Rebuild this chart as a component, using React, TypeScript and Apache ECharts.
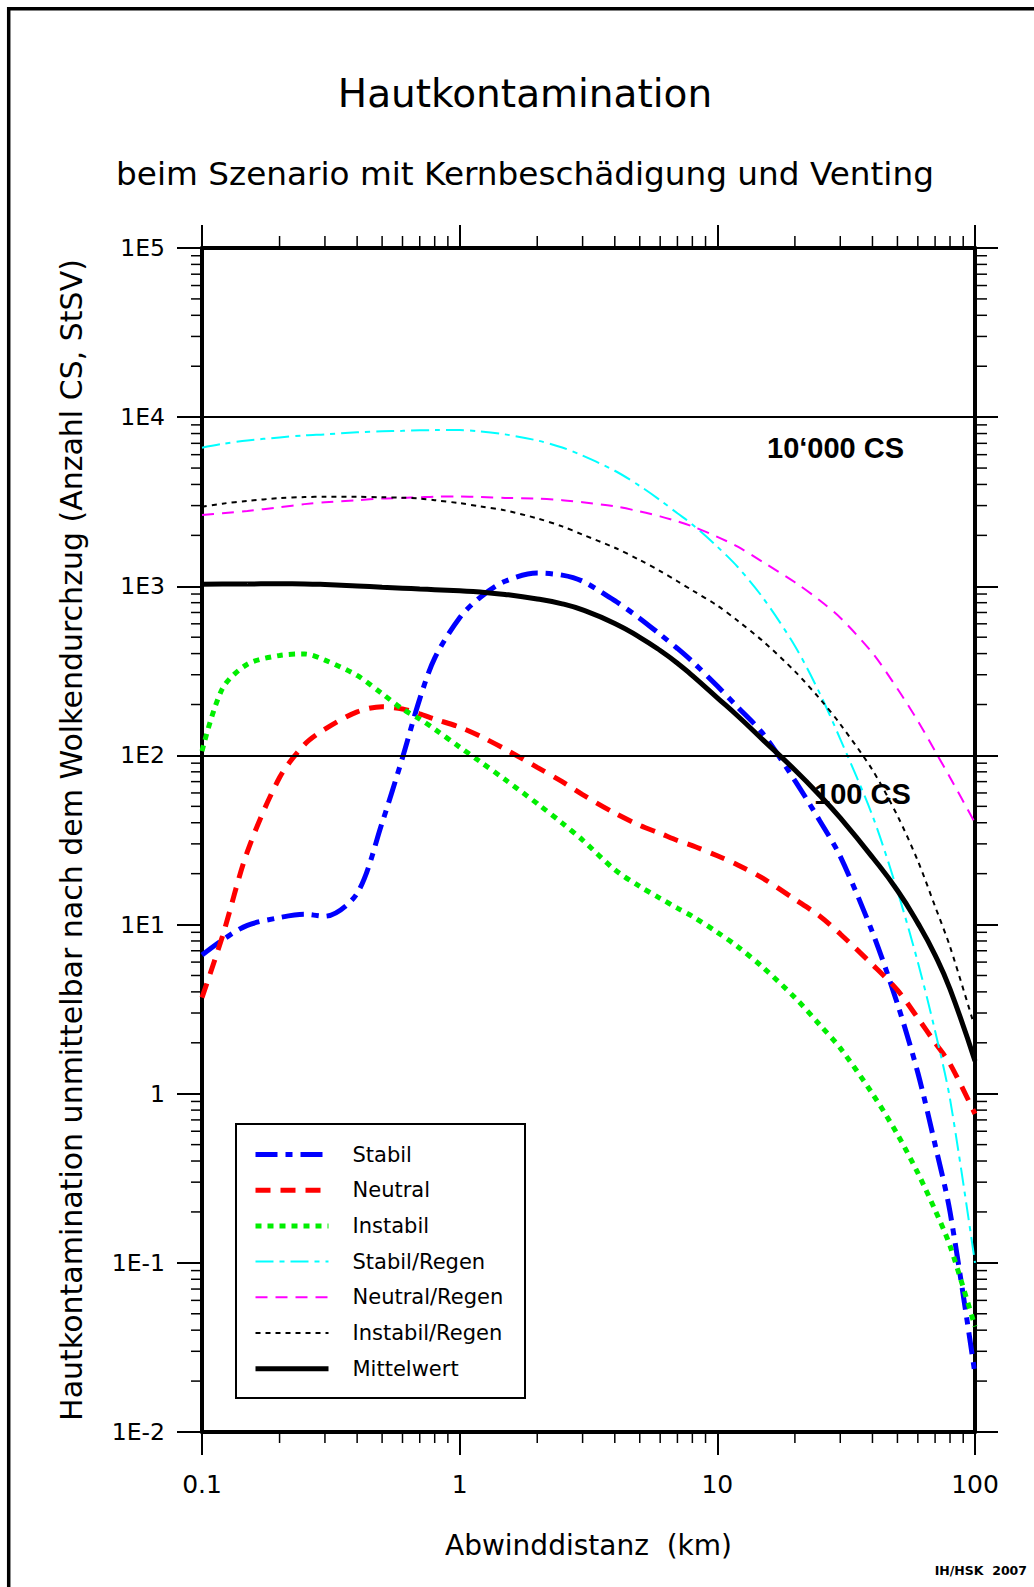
import React, { useEffect, useRef } from "react";
import * as echarts from "echarts";

// Downwind distance (km)
const distances = [0.1, 0.12, 0.15, 0.2, 0.25, 0.3, 0.4, 0.5, 0.6, 0.7, 0.8, 1, 1.2, 1.5, 2, 2.5, 3, 4, 5, 6, 7, 8, 10, 12, 15, 20, 25, 30, 40, 50, 60, 70, 80, 100];

const stabil = [6.6, 8.1, 9.9, 11.0, 11.5, 11.2, 15.3, 40, 97, 216, 376, 652, 859, 1071, 1197, 1164, 1072, 822, 646, 519, 429, 359, 257, 193, 135, 71, 41, 25.3, 9.0, 3.4, 1.33, 0.5, 0.2, 0.022];
const neutral = [3.7, 8.5, 27, 74, 116, 143, 181, 194, 188, 176, 164, 147, 130, 109, 85, 70, 58.6, 45.6, 38.6, 34.6, 31.4, 29.3, 25.5, 22.5, 18.8, 14.1, 11.2, 8.8, 5.8, 4.1, 2.8, 2.0, 1.5, 0.76];
const instabil = [106, 248, 346, 390, 398, 366, 297, 232, 188, 164, 143, 112, 92, 72, 51.9, 39.8, 31.6, 21.1, 16.8, 14.3, 12.5, 11.2, 9.0, 7.4, 5.6, 3.7, 2.55, 1.86, 1.0, 0.575, 0.34, 0.205, 0.126, 0.042];
const stabilRegen = [6600, 6950, 7280, 7590, 7800, 7910, 8130, 8240, 8300, 8360, 8380, 8390, 8240, 7910, 7280, 6610, 5920, 4820, 3920, 3230, 2700, 2320, 1714, 1300, 859, 444, 232, 125, 44, 15.8, 6.0, 2.35, 0.93, 0.1];
const neutralRegen = [2640, 2700, 2790, 2930, 3060, 3140, 3230, 3300, 3330, 3360, 3390, 3400, 3370, 3330, 3300, 3230, 3140, 2970, 2770, 2590, 2420, 2260, 1960, 1714, 1393, 1057, 824, 652, 403, 248, 160, 106, 74, 40];
const instabilRegen = [2950, 3080, 3200, 3320, 3370, 3380, 3380, 3360, 3340, 3300, 3230, 3100, 2970, 2810, 2520, 2260, 2020, 1690, 1430, 1230, 1071, 946, 769, 625, 475, 314, 216, 153, 82, 44, 23.8, 12.8, 7.4, 2.45];
const mittelwert = [1028, 1030, 1032, 1035, 1033, 1025, 1005, 988, 975, 963, 955, 940, 925, 895, 841, 787, 725, 603, 499, 417, 351, 296, 219, 171, 124, 82, 58, 42.7, 25, 15.9, 10.2, 6.6, 4.15, 1.56];

const thresholds = [10000, 100];
const thresholdLabels = ["10\u2018000 CS", "100 CS"];

const xTickLabels = ["0.1", "1", "10", "100"];
const yTickLabels = ["1E-2", "1E-1", "1", "1E1", "1E2", "1E3", "1E4", "1E5"];
const xMinorTicks = [0.2, 0.3, 0.4, 0.5, 0.6, 0.7, 0.8, 0.9, 2, 3, 4, 5, 6, 7, 8, 9, 20, 30, 40, 50, 60, 70, 80, 90];
const yMinorTicks = [
  0.02, 0.03, 0.04, 0.05, 0.06, 0.07, 0.08, 0.09,
  0.2, 0.3, 0.4, 0.5, 0.6, 0.7, 0.8, 0.9,
  2, 3, 4, 5, 6, 7, 8, 9,
  20, 30, 40, 50, 60, 70, 80, 90,
  200, 300, 400, 500, 600, 700, 800, 900,
  2000, 3000, 4000, 5000, 6000, 7000, 8000, 9000,
  20000, 30000, 40000, 50000, 60000, 70000, 80000, 90000,
];

const seriesNames = ["Stabil", "Neutral", "Instabil", "Stabil/Regen", "Neutral/Regen", "Instabil/Regen", "Mittelwert"];
const seriesValues = [stabil, neutral, instabil, stabilRegen, neutralRegen, instabilRegen, mittelwert];
const seriesColors = ["#0000ff", "#ff0000", "#00ee00", "#00ffff", "#ff00ff", "#000000", "#000000"];
const seriesWidths = [5, 5, 5, 2, 2, 2, 5];
const seriesDashes: any[] = [[22, 8, 7, 8], [15, 10], [6, 6], [18, 6, 5, 6], [12, 8], [5, 5], "solid"];
const seriesSmooth = [0.3, 0.3, 0.3, 0.3, 0.3, 0.3, 0.5];

const X_MIN = 0.1;
const X_MAX = 100;
const Y_MIN = 0.01;
const Y_MAX = 100000;
const FONT = "DejaVu Sans";

export default function App() {
  const ref = useRef<HTMLDivElement>(null);

  useEffect(() => {
    if (!ref.current) return;
    const chart = echarts.init(ref.current, null, { renderer: "svg" });

    const lineSeries = seriesNames.map((name, si) => ({
      name,
      type: "line",
      xAxisIndex: 0,
      yAxisIndex: 0,
      data: distances.map((d, i) => [d, seriesValues[si][i]]),
      showSymbol: false,
      symbol: "none",
      smooth: seriesSmooth[si],
      silent: true,
      z: si === 6 ? 4 : 3,
      itemStyle: { color: seriesColors[si] },
      lineStyle: { color: seriesColors[si], width: seriesWidths[si], type: seriesDashes[si], cap: "butt" },
      markLine:
        si === 6
          ? {
              silent: true,
              symbol: "none",
              label: { show: false },
              lineStyle: { color: "#000", width: 2, type: "solid" },
              data: thresholds.map((v) => ({ yAxis: v })),
            }
          : undefined,
    }));

    const tickStyle = { stroke: "#000", lineWidth: 1.5 };

    const option: any = {
      animation: false,
      backgroundColor: "#fff",
      textStyle: { fontFamily: FONT },
      title: [
        {
          text: "Hautkontamination",
          left: 525,
          top: 74,
          padding: 0,
          textAlign: "center",
          textStyle: { fontFamily: FONT, fontSize: 39, fontWeight: "normal", color: "#000" },
        },
        {
          text: "beim Szenario mit Kernbeschädigung und Venting",
          left: 525,
          top: 157,
          padding: 0,
          textAlign: "center",
          textStyle: { fontFamily: FONT, fontSize: 32.7, fontWeight: "normal", color: "#000" },
        },
      ],
      grid: { left: 202, right: 59, top: 248, bottom: 155, containLabel: false },
      legend: {
        data: seriesNames,
        orient: "vertical",
        left: 253,
        top: 1144,
        padding: 0,
        itemWidth: 73,
        itemHeight: 14,
        itemGap: 14.7,
        selectedMode: false,
        z: 10,
        itemStyle: { opacity: 0 },
        lineStyle: { width: "inherit", type: "inherit" },
        textStyle: { fontFamily: FONT, fontSize: 21, color: "#000", padding: [0, 0, 0, 19] },
      },
      xAxis: [
        {
          type: "log",
          logBase: 10,
          min: X_MIN,
          max: X_MAX,
          splitNumber: 3,
          position: "bottom",
          name: "Abwinddistanz  (km)",
          nameLocation: "middle",
          nameGap: 99,
          nameTextStyle: { fontFamily: FONT, fontSize: 28, color: "#000" },
          axisLine: { show: true, onZero: false, lineStyle: { color: "#000", width: 4 } },
          axisTick: { show: true, length: 23, lineStyle: { color: "#000", width: 2 } },
          axisLabel: {
            show: true,
            margin: 40,
            fontFamily: FONT,
            fontSize: 25,
            color: "#000",
            showMinLabel: true,
            showMaxLabel: true,
            formatter: (v: number) => xTickLabels[Math.round(Math.log10(v)) + 1],
          },
          splitLine: { show: false },
        },
        {
          type: "log",
          logBase: 10,
          min: X_MIN,
          max: X_MAX,
          splitNumber: 3,
          position: "top",
          axisLine: { show: true, onZero: false, lineStyle: { color: "#000", width: 4 } },
          axisTick: { show: true, length: 23, lineStyle: { color: "#000", width: 2 } },
          axisLabel: { show: false },
          splitLine: { show: false },
        },
      ],
      yAxis: [
        {
          type: "log",
          logBase: 10,
          min: Y_MIN,
          max: Y_MAX,
          splitNumber: 7,
          position: "left",
          name: "Hautkontamination unmittelbar nach dem Wolkendurchzug (Anzahl CS, StSV)",
          nameLocation: "middle",
          nameRotate: 90,
          nameGap: 116,
          nameTextStyle: { fontFamily: FONT, fontSize: 30, color: "#000" },
          axisLine: { show: true, onZero: false, lineStyle: { color: "#000", width: 4 } },
          axisTick: { show: true, length: 25, lineStyle: { color: "#000", width: 2 } },
          axisLabel: {
            show: true,
            margin: 37,
            fontFamily: FONT,
            fontSize: 23.5,
            color: "#000",
            showMinLabel: true,
            showMaxLabel: true,
            formatter: (v: number) => yTickLabels[Math.round(Math.log10(v)) + 2],
          },
          splitLine: { show: false },
        },
        {
          type: "log",
          logBase: 10,
          min: Y_MIN,
          max: Y_MAX,
          splitNumber: 7,
          position: "right",
          axisLine: { show: true, onZero: false, lineStyle: { color: "#000", width: 4 } },
          axisTick: { show: true, length: 23, lineStyle: { color: "#000", width: 2 } },
          axisLabel: { show: false },
          splitLine: { show: false },
        },
      ],
      series: [
        ...lineSeries,
        {
          name: "xMinorTicks",
          type: "custom",
          xAxisIndex: 0,
          yAxisIndex: 0,
          silent: true,
          clip: false,
          data: xMinorTicks.map((v) => [v, 1]),
          renderItem: (params: any, api: any) => {
            const v = api.value(0);
            const pb = api.coord([v, Y_MIN]);
            const pt = api.coord([v, Y_MAX]);
            return {
              type: "group",
              children: [
                { type: "line", shape: { x1: pb[0], y1: pb[1], x2: pb[0], y2: pb[1] + 11 }, style: tickStyle },
                { type: "line", shape: { x1: pt[0], y1: pt[1], x2: pt[0], y2: pt[1] - 12 }, style: tickStyle },
              ],
            };
          },
        },
        {
          name: "yMinorTicks",
          type: "custom",
          xAxisIndex: 0,
          yAxisIndex: 0,
          silent: true,
          clip: false,
          data: yMinorTicks.map((v) => [1, v]),
          renderItem: (params: any, api: any) => {
            const v = api.value(1);
            const pl = api.coord([X_MIN, v]);
            const pr = api.coord([X_MAX, v]);
            return {
              type: "group",
              children: [
                { type: "line", shape: { x1: pl[0] - 11, y1: pl[1], x2: pl[0], y2: pl[1] }, style: tickStyle },
                { type: "line", shape: { x1: pr[0], y1: pr[1], x2: pr[0] + 12, y2: pr[1] }, style: tickStyle },
              ],
            };
          },
        },
      ],
      graphic: [
        {
          type: "rect",
          z: 0,
          silent: true,
          shape: { x: 8.7, y: 8.7, width: 1200, height: 1800 },
          style: { fill: "none", stroke: "#000", lineWidth: 3.5 },
        },
        {
          type: "rect",
          z: 3,
          silent: true,
          shape: { x: 236, y: 1124, width: 289, height: 274 },
          style: { fill: "#fff", stroke: "#000", lineWidth: 2 },
        },
        {
          type: "text",
          z: 100,
          silent: true,
          x: 767,
          y: 448,
          style: {
            text: thresholdLabels[0],
            fontFamily: "Liberation Sans",
            fontWeight: "bold",
            fontSize: 29,
            fill: "#000",
            verticalAlign: "middle",
          },
        },
        {
          type: "text",
          z: 100,
          silent: true,
          x: 814,
          y: 794,
          style: {
            text: thresholdLabels[1],
            fontFamily: "Liberation Sans",
            fontWeight: "bold",
            fontSize: 29,
            fill: "#000",
            verticalAlign: "middle",
          },
        },
        {
          type: "text",
          z: 100,
          silent: true,
          x: 1027,
          y: 1570,
          style: {
            text: "IH/HSK  2007",
            fontFamily: FONT,
            fontWeight: "bold",
            fontSize: 12.5,
            fill: "#000",
            align: "right",
            verticalAlign: "middle",
          },
        },
      ],
    };

    chart.setOption(option);
    return () => chart.dispose();
  }, []);

  return (
    <div
      ref={ref}
      style={{ position: "absolute", left: 0, top: 0, width: 1034, height: 1587, background: "#fff" }}
    />
  );
}
